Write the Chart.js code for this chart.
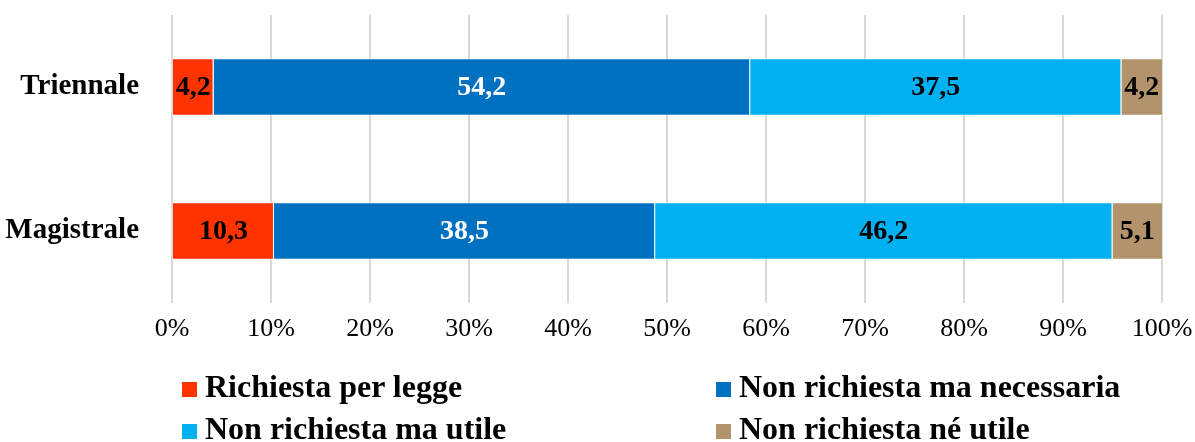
<!DOCTYPE html>
<html>
<head>
<meta charset="utf-8">
<script src="https://cdn.jsdelivr.net/npm/chart.js@4"></script>
<style>
  html, body { margin: 0; padding: 0; background: #fff; }
  #wrap { position: relative; width: 1195px; height: 442px; overflow: hidden; }
  #c { position: absolute; left: 0; top: 0; }
  .lg { position: absolute; font-family: "Liberation Serif", serif; font-weight: bold; font-size: 32px; color: #000; white-space: nowrap; line-height: 36px; }
  .lg i { position: absolute; width: 15px; height: 15px; left: 0; top: 14px; }
  .lg span { position: absolute; left: 23px; top: 0; }
</style>
</head>
<body>
<div id="wrap">
  <canvas id="c" width="1195" height="442"></canvas>
</div>
<script>
const categories = ["Triennale", "Magistrale"];
const seriesNames = ["Richiesta per legge", "Non richiesta ma necessaria", "Non richiesta ma utile", "Non richiesta né utile"];
const richiestaPerLegge = [4.2, 10.3];
const nonRichiestaNecessaria = [54.2, 38.5];
const nonRichiestaUtile = [37.5, 46.2];
const nonRichiestaNeUtile = [4.2, 5.1];
const tickLabels = ["0%", "10%", "20%", "30%", "40%", "50%", "60%", "70%", "80%", "90%", "100%"];
const colors = ["#FF3300", "#0070C0", "#00B0F0", "#B3936C"];
const labelColors = ["#000000", "#FFFFFF", "#000000", "#000000"];

const seriesValues = [richiestaPerLegge, nonRichiestaNecessaria, nonRichiestaUtile, nonRichiestaNeUtile];

const valueLabels = {
  id: "valueLabels",
  afterDatasetsDraw(chart) {
    const ctx = chart.ctx;
    ctx.save();
    ctx.font = "bold 28px 'Liberation Serif'";
    ctx.textAlign = "center";
    ctx.textBaseline = "middle";
    chart.data.datasets.forEach((ds, di) => {
      const meta = chart.getDatasetMeta(di);
      meta.data.forEach((el, i) => {
        const v = ds.data[i];
        const right = Math.min(el.x, chart.chartArea.right);
        const cx = (right + el.base) / 2;
        ctx.fillStyle = labelColors[di];
        ctx.fillText(v.toFixed(1).replace(".", ","), cx, el.y + 1);
      });
    });
    ctx.restore();
  }
};

const chart = new Chart(document.getElementById("c"), {
  type: "bar",
  data: {
    labels: categories,
    datasets: seriesNames.map((n, i) => ({
      label: n,
      data: seriesValues[i],
      backgroundColor: colors[i],
      borderColor: "rgba(255,255,255,0.55)",
      borderWidth: 1,
      barPercentage: 1,
      categoryPercentage: 0.40
    }))
  },
  options: {
    indexAxis: "y",
    responsive: false,
    animation: false,
    layout: { padding: { top: 15, right: 33, bottom: 0, left: 0 } },
    plugins: {
      legend: { display: false },
      tooltip: { enabled: false }
    },
    scales: {
      x: {
        stacked: true,
        min: 0,
        max: 100,
        grid: { color: "#D9D9D9", lineWidth: 2, drawTicks: false },
        border: { display: false },
        ticks: {
          stepSize: 10,
          padding: 11,
          color: "#000",
          font: { family: "'Liberation Serif'", size: 26 },
          callback: (v, i) => tickLabels[i]
        },
        afterFit: s => { s.height = 139; s.paddingLeft = 0; s.paddingRight = 0; }
      },
      y: {
        stacked: true,
        grid: { display: false, drawTicks: false },
        border: { display: false },
        ticks: {
          padding: 33,
          color: "#000",
          font: { family: "'Liberation Serif'", size: 29, weight: "bold" }
        },
        afterFit: s => { s.width = 172; s.paddingTop = 0; s.paddingBottom = 0; }
      }
    }
  },
  plugins: [valueLabels]
});

// HTML legend built from the chart's datasets (2 columns x 2 rows)
const legendPos = [[182, 368], [716, 368], [182, 410], [716, 410]];
const wrap = document.getElementById("wrap");
chart.data.datasets.forEach((ds, k) => {
  const d = document.createElement("div");
  d.className = "lg";
  d.style.left = legendPos[k][0] + "px";
  d.style.top = legendPos[k][1] + "px";
  const sw = document.createElement("i");
  sw.style.background = ds.backgroundColor;
  const t = document.createElement("span");
  t.textContent = ds.label;
  d.appendChild(sw);
  d.appendChild(t);
  wrap.appendChild(d);
});
</script>
</body>
</html>
